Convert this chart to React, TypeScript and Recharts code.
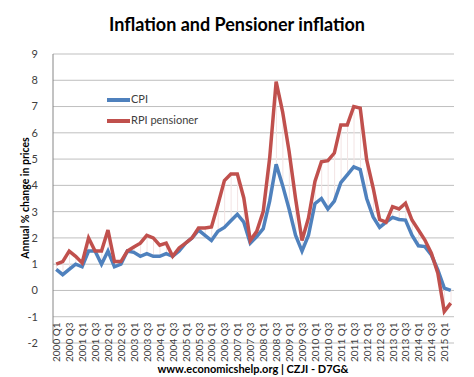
import { Bar, CartesianGrid, ComposedChart, Legend, Line, XAxis, YAxis } from 'recharts'

const quarters = [
  '2000 Q1', '2000 Q2', '2000 Q3', '2000 Q4', '2001 Q1', '2001 Q2', '2001 Q3', '2001 Q4',
  '2002 Q1', '2002 Q2', '2002 Q3', '2002 Q4', '2003 Q1', '2003 Q2', '2003 Q3', '2003 Q4',
  '2004 Q1', '2004 Q2', '2004 Q3', '2004 Q4', '2005 Q1', '2005 Q2', '2005 Q3', '2005 Q4',
  '2006 Q1', '2006 Q2', '2006 Q3', '2006 Q4', '2007 Q1', '2007 Q2', '2007 Q3', '2007 Q4',
  '2008 Q1', '2008 Q2', '2008 Q3', '2008 Q4', '2009 Q1', '2009 Q2', '2009 Q3', '2009 Q4',
  '2010 Q1', '2010 Q2', '2010 Q3', '2010 Q4', '2011 Q1', '2011 Q2', '2011 Q3', '2011 Q4',
  '2012 Q1', '2012 Q2', '2012 Q3', '2012 Q4', '2013 Q1', '2013 Q2', '2013 Q3', '2013 Q4',
  '2014 Q1', '2014 Q2', '2014 Q3', '2014 Q4', '2015 Q1', '2015 Q2',
]

// annual % change
const cpi = [
  0.8, 0.6, 0.8, 1.0, 0.9, 1.5, 1.5, 1.0, 1.5, 0.9, 1.0, 1.5,
  1.45, 1.3, 1.4, 1.3, 1.3, 1.4, 1.3, 1.5, 1.8, 2.0, 2.3, 2.1,
  1.9, 2.25, 2.4, 2.65, 2.9, 2.6, 1.8, 2.05, 2.35, 3.4, 4.8, 4.0,
  3.1, 2.1, 1.5, 2.1, 3.3, 3.5, 3.1, 3.4, 4.1, 4.4, 4.7, 4.6,
  3.5, 2.8, 2.4, 2.6, 2.78, 2.7, 2.68, 2.1, 1.7, 1.67, 1.35, 0.78,
  0.09, 0.0,
]
const rpiPensioner = [
  1.0, 1.1, 1.5, 1.3, 1.05, 2.0, 1.5, 1.5, 2.3, 1.1, 1.1, 1.5,
  1.65, 1.8, 2.1, 2.0, 1.72, 1.8, 1.3, 1.62, 1.8, 2.0, 2.38, 2.38,
  2.42, 3.27, 4.18, 4.43, 4.43, 3.52, 1.9, 2.25, 3.0, 5.04, 7.95, 6.8,
  5.3, 3.5, 1.9, 2.76, 4.15, 4.9, 4.94, 5.23, 6.3, 6.3, 7.0, 6.94,
  4.97, 3.9, 2.7, 2.6, 3.19, 3.1, 3.32, 2.68, 2.3, 1.92, 1.42, 0.66,
  -0.8, -0.48,
]
const yTicks = [-2, -1, 0, 1, 2, 3, 4, 5, 6, 7, 8, 9]

const series = [
  { key: 'cpi', name: 'CPI', color: '#4f81bd' },
  { key: 'rpi', name: 'RPI pensioner', color: '#c0504d' },
]

const data = quarters.map((q, i) => ({ q, cpi: cpi[i], rpi: rpiPensioner[i] }))

const font = 'Lato, Carlito, Calibri, sans-serif'

function QuarterTick(props: any) {
  const { x, y, payload } = props
  const ty = y + 19
  return (
    <text x={x} y={ty} transform={`rotate(-90, ${x}, ${ty})`} textAnchor="start" dominantBaseline="central" fontSize={10} fill="#404040" fontFamily={font}>
      {payload.value}
    </text>
  )
}

function SeriesKey() {
  return (
    <div style={{ fontFamily: font, fontSize: 11, color: '#404040', lineHeight: '21px' }}>
      {series.map((s) => (
        <div key={s.key} style={{ whiteSpace: 'nowrap' }}>
          <span style={{ display: 'inline-block', width: 23, height: 4, background: s.color, verticalAlign: 'middle', marginRight: 1 }} />
          {s.name}
        </div>
      ))}
    </div>
  )
}

export default function App() {
  return (
    <div style={{ position: 'absolute', left: 0, top: 0, width: 474, height: 377, background: '#fff', fontFamily: font }}>
      <div style={{ position: 'absolute', top: 13, width: 474, textAlign: 'center', fontSize: 18, fontWeight: 700, color: '#000' }}>
        Inflation and Pensioner inflation
      </div>
      <div style={{ position: 'absolute', left: 25, top: 198, transform: 'translate(-50%, -50%) rotate(-90deg)', fontSize: 10.5, fontWeight: 700, whiteSpace: 'nowrap', color: '#000' }}>
        Annual % change in prices
      </div>
      <ComposedChart width={474} height={377} data={data} margin={{ top: 54, right: 20, bottom: 4, left: 0 }}>
        <CartesianGrid vertical={false} stroke="#bfbfbf" />
        <XAxis dataKey="q" height={30} interval={1} tickLine={false} tickSize={0} tickMargin={0} axisLine={false} tick={QuarterTick} />
        <YAxis width={53} domain={[-2, 9]} ticks={yTicks} interval={0} tickLine={false} axisLine={{ stroke: '#868686' }} tick={{ fill: '#404040', fontSize: 11, fontFamily: font }} tickMargin={9} />
        <Bar dataKey={(d: any) => [Math.min(d.cpi, d.rpi), Math.max(d.cpi, d.rpi)]} barSize={1} fill="#f3e4e4" isAnimationActive={false} legendType="none" />
        {series.map((s) => (
          <Line key={s.key} type="linear" dataKey={s.key} name={s.name} stroke={s.color} strokeWidth={3.5} dot={false} activeDot={false} isAnimationActive={false} />
        ))}
        <Legend layout="vertical" align="center" verticalAlign="middle" content={<SeriesKey />} wrapperStyle={{ position: 'absolute', left: 107, top: 88, width: 'auto' }} />
      </ComposedChart>
      <div style={{ position: 'absolute', top: 362, left: 0, width: 506, textAlign: 'center', fontSize: 11, fontWeight: 700, color: '#000' }}>
        www.economicshelp.org | CZJI - D7G&amp;
      </div>
    </div>
  )
}
